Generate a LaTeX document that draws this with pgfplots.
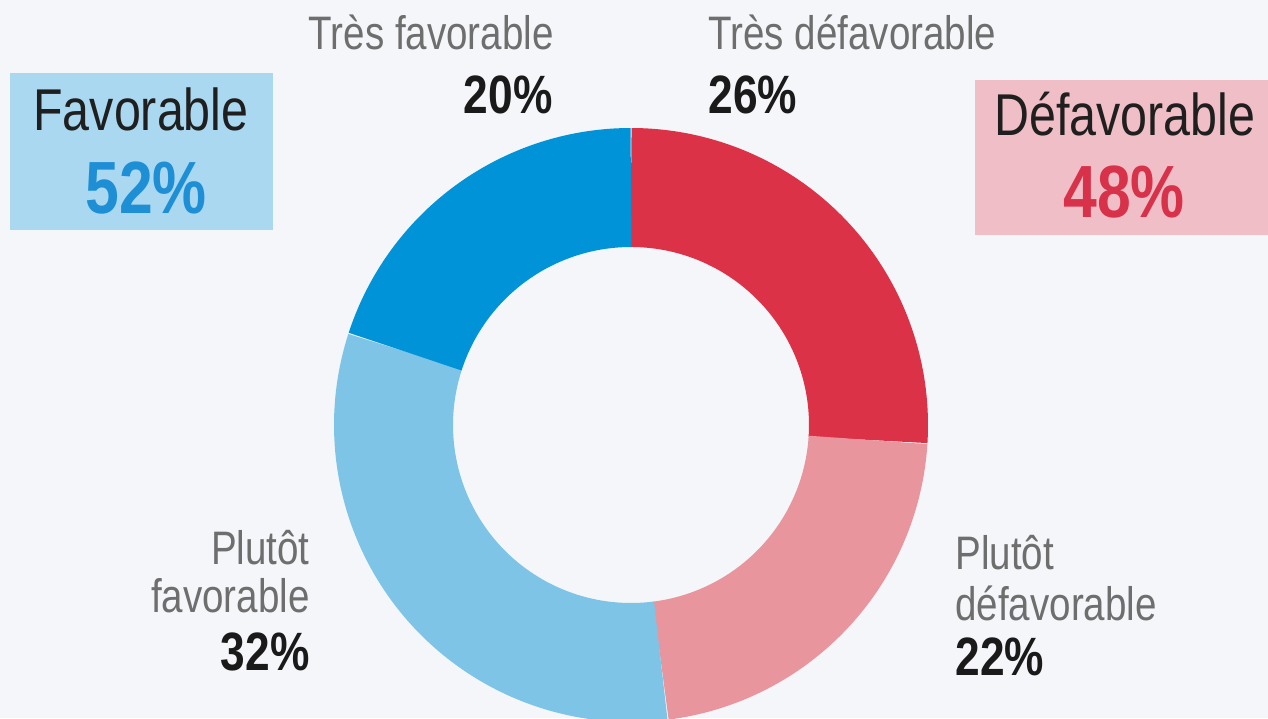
\documentclass[border=0pt]{standalone}
\usepackage{fontspec}
\setmainfont{Liberation Sans}[FakeStretch=0.82]
\usepackage{pgfplots}
\pgfplotsset{compat=1.18}
\definecolor{bg}{HTML}{F4F6F9}
\definecolor{tresfav}{HTML}{0093D8}
\definecolor{plutfav}{HTML}{7DC4E7}
\definecolor{tresdef}{HTML}{DC3248}
\definecolor{plutdef}{HTML}{E8959D}
\definecolor{favbox}{HTML}{A9D8F0}
\definecolor{defbox}{HTML}{F0BEC6}
\definecolor{favnum}{HTML}{1E8FD5}
\definecolor{defnum}{HTML}{D8314A}
\definecolor{lab}{HTML}{6E6E6E}
\definecolor{num}{HTML}{1A1A1A}
\definecolor{title}{HTML}{1F1F1F}
% shares (percent), clockwise from the top
\def\vTD{26}\def\vPD{22}\def\vPF{32}\def\vTF{20}
\pgfmathsetmacro{\aA}{90}
\pgfmathsetmacro{\aB}{\aA-3.6*\vTD}
\pgfmathsetmacro{\aC}{\aB-3.6*\vPD}
\pgfmathsetmacro{\aD}{\aC-3.6*\vPF}
\pgfmathsetmacro{\aE}{\aD-3.6*\vTF}
\def\cx{631}\def\cy{293}\def\rm{237.5}
\begin{document}
\begin{tikzpicture}
\useasboundingbox (0,0) rectangle (634pt,359pt);
\fill[bg] (0,0) rectangle (634pt,359pt);
\begin{axis}[at={(0,0)}, anchor=south west, width=634pt, height=359pt,
  scale only axis, hide axis, xmin=0, xmax=1268, ymin=0, ymax=718, clip=true]
\fill[favbox] (axis cs:10,645) rectangle (axis cs:273,488);
\fill[defbox] (axis cs:975,638) rectangle (axis cs:1285,483);
\addplot[line width=59.5pt, color=tresdef, domain=\aB:\aA, samples=90, variable=\t] ({\cx+\rm*cos(\t)},{\cy+\rm*sin(\t)});
\addplot[line width=59.5pt, color=plutdef, domain=\aC:\aB, samples=90, variable=\t] ({\cx+\rm*cos(\t)},{\cy+\rm*sin(\t)});
\addplot[line width=59.5pt, color=plutfav, domain=\aD:\aC, samples=90, variable=\t] ({\cx+\rm*cos(\t)},{\cy+\rm*sin(\t)});
\addplot[line width=59.5pt, color=tresfav, domain=\aE:\aD, samples=90, variable=\t] ({\cx+\rm*cos(\t)},{\cy+\rm*sin(\t)});
\tikzset{lb/.style={inner sep=0pt, text=lab, font=\fontsize{23.5}{26}\selectfont},
         nb/.style={inner sep=0pt, text=num, font=\fontsize{27}{30}\selectfont\bfseries}}
\node[anchor=base, inner sep=0pt, text=title, font=\fontsize{29.5}{32}\selectfont] at (axis cs:141,587) {Favorable};
\node[anchor=base, inner sep=0pt, text=favnum, font=\fontsize{37}{40}\selectfont\bfseries] at (axis cs:146,504) {52\%};
\node[anchor=base, inner sep=0pt, text=title, font=\fontsize{29.5}{32}\selectfont] at (axis cs:1125,582) {Défavorable};
\node[anchor=base, inner sep=0pt, text=defnum, font=\fontsize{37}{40}\selectfont\bfseries] at (axis cs:1124,500) {48\%};
\node[lb, anchor=base east] at (axis cs:554,668) {Très favorable};
\node[nb, anchor=base east] at (axis cs:553,604) {\vTF\%};
\node[lb, anchor=base west] at (axis cs:708,668) {Très défavorable};
\node[nb, anchor=base west] at (axis cs:708,604) {\vTD\%};
\node[lb, anchor=base east] at (axis cs:310,154) {Plutôt};
\node[lb, anchor=base east] at (axis cs:310,106) {favorable};
\node[nb, anchor=base east] at (axis cs:310,48) {\vPF\%};
\node[lb, anchor=base west] at (axis cs:955,149) {Plutôt};
\node[lb, anchor=base west] at (axis cs:955,98) {défavorable};
\node[nb, anchor=base west] at (axis cs:955,43) {\vPD\%};
\end{axis}
\end{tikzpicture}
\end{document}
